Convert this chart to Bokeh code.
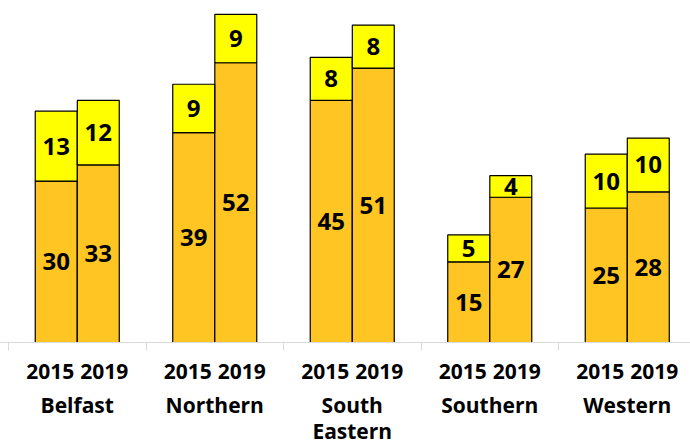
from bokeh.plotting import figure
from bokeh.models import ColumnDataSource, Range1d, LinearAxis, FixedTicker
from bokeh.core.properties import value
from bokeh.embed import file_html
from bokeh.resources import INLINE

regions = ["Belfast", "Northern", "South\nEastern", "Southern", "Western"]
years = ["2015", "2019"]
lower_2015 = [30, 39, 45, 15, 25]
upper_2015 = [13, 9, 8, 5, 10]
lower_2019 = [33, 52, 51, 27, 28]
upper_2019 = [12, 9, 8, 4, 10]

LOWER_COLOR = "#FFC522"
UPPER_COLOR = "#FFFF00"
FONT = "Open Sans"
offset = 0.153
bar_w = 0.305
label_offset = 0.197

xs, lo, up, lbl_lo, lbl_up = [], [], [], [], []
for i in range(len(regions)):
    for k, (l, u) in enumerate([(lower_2015[i], upper_2015[i]), (lower_2019[i], upper_2019[i])]):
        xs.append(i - offset if k == 0 else i + offset)
        lo.append(l)
        up.append(l + u)
        lbl_lo.append(str(l))
        lbl_up.append(str(u))

src = ColumnDataSource(dict(
    x=xs, lo=lo, up=up,
    mid_lo=[v / 2 for v in lo],
    mid_up=[(a + b) / 2 for a, b in zip(lo, up)],
    t_lo=lbl_lo, t_up=lbl_up,
))

x0 = -0.5 - 8 / 137.5
p = figure(frame_width=690, frame_height=342, output_backend="svg", toolbar_location=None,
           x_range=Range1d(x0, x0 + 690 / 137.5), y_range=Range1d(0, 342 / 5.38),
           min_border_left=0, min_border_right=0, min_border_top=0, min_border_bottom=0,
           x_axis_type=None, y_axis_type=None)
p.outline_line_color = None
p.xgrid.visible = False
p.ygrid.visible = False

p.vbar(x="x", width=bar_w, bottom=0, top="lo", source=src,
       fill_color=LOWER_COLOR, line_color="black", line_width=1.2)
p.vbar(x="x", width=bar_w, bottom="lo", top="up", source=src,
       fill_color=UPPER_COLOR, line_color="black", line_width=1.2)

p.text(x="x", y="mid_lo", text="t_lo", source=src, text_align="center",
       text_baseline="middle", text_font=value(FONT), text_font_style="bold",
       text_font_size="24px", text_color="black")
p.text(x="x", y="mid_up", text="t_up", source=src, text_align="center",
       text_baseline="middle", text_font=value(FONT), text_font_style="bold",
       text_font_size="24px", text_color="black")

# axis with year labels and separator ticks
year_ticks = []
for i in range(len(regions)):
    year_ticks += [i - label_offset, i + label_offset]
seps = [i - 0.5 for i in range(len(regions))]
ax1 = LinearAxis(ticker=FixedTicker(ticks=year_ticks, minor_ticks=seps))
ax1.major_label_overrides = {x: years[j % 2] for j, x in enumerate(year_ticks)}
ax1.axis_line_color = "#D9D9D9"
ax1.axis_line_width = 1
ax1.major_tick_line_color = None
ax1.minor_tick_line_color = "#D9D9D9"
ax1.minor_tick_out = 8
ax1.minor_tick_in = 0
ax1.major_label_standoff = 13
ax1.major_label_text_font = FONT
ax1.major_label_text_font_style = "bold"
ax1.major_label_text_font_size = "21px"
ax1.major_label_text_color = "black"
p.add_layout(ax1, "below")

# axis with region labels
ax2 = LinearAxis(ticker=FixedTicker(ticks=list(range(len(regions)))))
ax2.major_label_overrides = {i: r for i, r in enumerate(regions)}
ax2.axis_line_color = None
ax2.major_tick_line_color = None
ax2.minor_tick_line_color = None
ax2.major_label_standoff = 3
ax2.major_label_text_font = FONT
ax2.major_label_text_font_style = "bold"
ax2.major_label_text_font_size = "21px"
ax2.major_label_text_color = "black"
ax2.major_label_text_line_height = 0.93
p.add_layout(ax2, "below")

open("out.html", "w").write(file_html(p, INLINE))
